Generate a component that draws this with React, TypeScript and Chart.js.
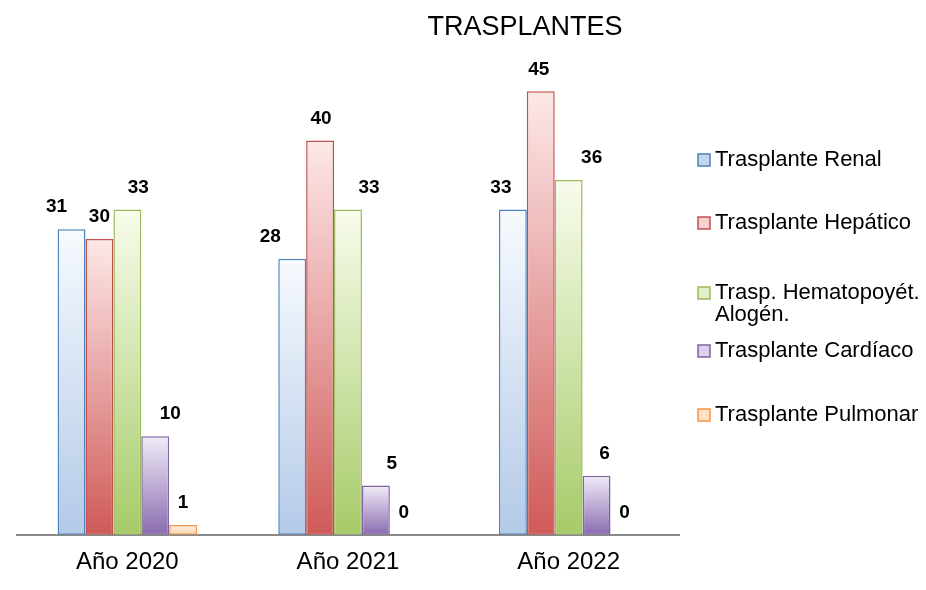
import React, { useEffect, useRef } from "react";
import { Chart, registerables } from "chart.js";

Chart.register(...registerables);

const chartTitle = "TRASPLANTES";
const categories = ["Año 2020", "Año 2021", "Año 2022"];
const seriesNames = [
  "Trasplante Renal",
  "Trasplante Hepático",
  "Trasp. Hematopoyét. Alogén.",
  "Trasplante Cardíaco",
  "Trasplante Pulmonar",
];
const renal = [31, 28, 33];
const hepatico = [30, 40, 45];
const hemato = [33, 33, 36];
const cardiaco = [10, 5, 6];
const pulmonar = [1, 0, 0];

const FONT = "'Liberation Sans', Arial, Helvetica, sans-serif";

const palettes = [
  { border: "#4f81bd", top: "#f7fafe", bottom: "#b3cae8", box: "#c5d7ee" },
  { border: "#c0504d", top: "#fde8e8", bottom: "#cf5a58", box: "#f4d0cf" },
  { border: "#9bbb59", top: "#f8fcec", bottom: "#a6cb68", box: "#e2efc8" },
  { border: "#8064a2", top: "#f1ecf8", bottom: "#8a6cb0", box: "#dcd0ea" },
  { border: "#f79646", top: "#fdf0e2", bottom: "#fbd5ad", box: "#fde2c6" },
];

// label x-shifts (style only), per series per category
const labelShift = [
  [-15, -22, -12],
  [0, 1, -2],
  [11, 21, 23],
  [15, 16, 8],
  [0, 0, 0],
];

const legendYs = [160, 223, 293, 351, 415];

const gradientFor = (i: number) => (ctx: any) => {
  const p = palettes[i];
  const chart = ctx.chart;
  const ys = chart.scales && chart.scales.y;
  if (!chart.chartArea || !ys || ctx.type !== "data") return p.bottom;
  const v = ctx.raw as number;
  const bottom = ys.getPixelForValue(0);
  let top = ys.getPixelForValue(v);
  if (!isFinite(top) || !isFinite(bottom)) return p.bottom;
  if (bottom - top < 1) top = bottom - 1;
  const g = chart.ctx.createLinearGradient(0, top, 0, bottom);
  g.addColorStop(0, p.top);
  g.addColorStop(1, p.bottom);
  return g;
};

const titlePlugin = {
  id: "customTitle",
  afterDraw(chart: any) {
    const ctx = chart.ctx;
    ctx.save();
    ctx.font = `27px ${FONT}`;
    ctx.fillStyle = "#000";
    ctx.textAlign = "center";
    ctx.textBaseline = "middle";
    ctx.fillText(chartTitle, 525, 28);
    ctx.restore();
  },
};

const valueLabelPlugin = {
  id: "valueLabels",
  afterDatasetsDraw(chart: any) {
    const ctx = chart.ctx;
    ctx.save();
    ctx.font = `bold 19px ${FONT}`;
    ctx.fillStyle = "#000";
    ctx.textAlign = "center";
    ctx.textBaseline = "middle";
    chart.data.datasets.forEach((ds: any, i: number) => {
      const meta = chart.getDatasetMeta(i);
      meta.data.forEach((bar: any, j: number) => {
        const v = ds.data[j];
        ctx.fillText(String(v), bar.x + labelShift[i][j], bar.y - 22);
      });
    });
    ctx.restore();
  },
};

const legendPlugin = {
  id: "sideLegend",
  afterDraw(chart: any) {
    const ctx = chart.ctx;
    const boxX = 698;
    const textX = 715;
    const maxW = chart.width - textX;
    ctx.save();
    ctx.font = `22px ${FONT}`;
    ctx.fillStyle = "#000";
    ctx.textAlign = "left";
    ctx.textBaseline = "middle";
    chart.data.datasets.forEach((ds: any, i: number) => {
      const y = legendYs[i];
      const p = palettes[i];
      // box
      ctx.fillStyle = p.box;
      ctx.fillRect(boxX, y - 6, 12, 12);
      ctx.strokeStyle = p.border;
      ctx.lineWidth = 1.5;
      ctx.strokeRect(boxX, y - 6, 12, 12);
      // text with wrap
      ctx.fillStyle = "#000";
      const words = String(ds.label).split(" ");
      const lines: string[] = [];
      let cur = "";
      words.forEach((w) => {
        const test = cur ? cur + " " + w : w;
        if (ctx.measureText(test).width > maxW && cur) {
          lines.push(cur);
          cur = w;
        } else {
          cur = test;
        }
      });
      if (cur) lines.push(cur);
      lines.forEach((ln, k) => ctx.fillText(ln, textX, y + k * 22));
    });
    ctx.restore();
  },
};

export default function App() {
  const ref = useRef<HTMLCanvasElement | null>(null);

  useEffect(() => {
    if (!ref.current) return;
    const series = [renal, hepatico, hemato, cardiaco, pulmonar];
    const chart = new Chart(ref.current, {
      type: "bar",
      data: {
        labels: categories,
        datasets: series.map((d, i) => ({
          label: seriesNames[i],
          data: d,
          backgroundColor: gradientFor(i),
          borderColor: palettes[i].border,
          borderWidth: (c: any) => (c.raw === 0 ? 0 : 1.5),
          borderSkipped: false,
          categoryPercentage: 0.632,
          barPercentage: 1,
        })),
      },
      options: {
        responsive: false,
        animation: false,
        layout: { padding: { left: 17, right: 247, top: 42, bottom: 0 } },
        plugins: {
          legend: { display: false },
          title: { display: false },
          tooltip: { enabled: false },
        },
        scales: {
          x: {
            grid: { display: false, drawTicks: false },
            border: { display: true, color: "#8a8a8a", width: 2 },
            ticks: {
              color: "#000",
              padding: 15,
              font: { family: FONT, size: 24, lineHeight: 1.05 },
            },
          },
          y: {
            display: false,
            min: 0,
            max: 50,
            grid: { display: false },
          },
        },
      } as any,
      plugins: [titlePlugin, valueLabelPlugin, legendPlugin],
    });
    return () => chart.destroy();
  }, []);

  return (
    <div style={{ position: "fixed", left: 0, top: 0, width: 926, height: 590, background: "#fff" }}>
      <canvas ref={ref} width={926} height={590} style={{ width: 926, height: 590, display: "block" }} />
    </div>
  );
}
